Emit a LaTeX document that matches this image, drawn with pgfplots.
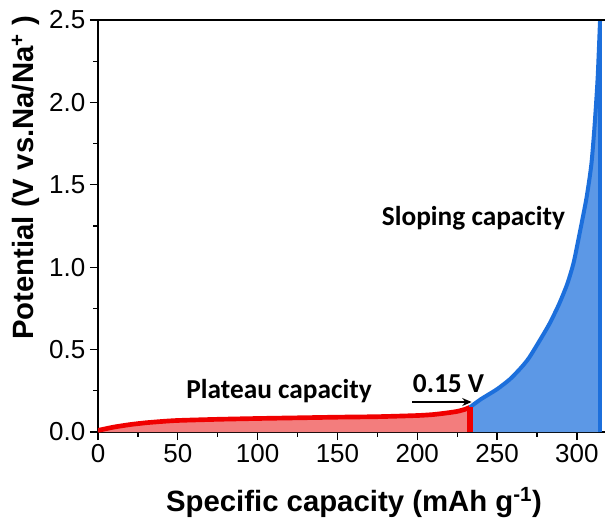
\documentclass[border=0pt]{standalone}
\usepackage{fontspec}
\setmainfont{Liberation Sans}
\newfontfamily\cali{Carlito}
\usepackage{pgfplots}
\pgfplotsset{compat=1.18}
\usetikzlibrary{arrows.meta}
\definecolor{redline}{RGB}{240,0,0}
\definecolor{redfill}{RGB}{243,125,125}
\definecolor{blueline}{RGB}{28,111,220}
\definecolor{bluefill}{RGB}{92,152,230}
\pgfplotstableread{
x y
0 0.01
5 0.02
10 0.03
20 0.045
30 0.056
40 0.064
50 0.07
75 0.077
100 0.082
125 0.086
150 0.09
175 0.093
200 0.1
210 0.106
218 0.115
225 0.125
230 0.138
233 0.15
}\plateau
\pgfplotstableread{
x y
233 0.15
235 0.165
240 0.2
250 0.26
258 0.32
265 0.39
270 0.45
277 0.56
283 0.66
289 0.78
294 0.9
298 1.03
302 1.22
306 1.42
309 1.62
311 1.85
313 2.15
314.5 2.5
}\sloping
\begin{document}
\begin{tikzpicture}
\begin{axis}[
 at={(0,0)}, anchor=south west,
 scale only axis, width=380.25pt, height=309pt,
 xmin=0, xmax=317.6, ymin=0, ymax=2.5,
 axis x line*=bottom, axis y line*=left,
 axis line style={line width=0.9pt, -},
 xtick={0,50,...,300}, ytick={0,0.5,...,2.5},
 minor x tick num=1, minor y tick num=1,
 tick align=outside, major tick length=6pt, minor tick length=3.5pt,
 every tick/.style={line width=0.9pt, black},
 ticklabel style={font=\fontsize{19.5}{20}\selectfont},
 /pgf/number format/assume math mode=true,
 yticklabel style={/pgf/number format/.cd, fixed, fixed zerofill, precision=1},
 xlabel={Specific capacity (mAh g\textsuperscript{-1})},
 ylabel={Potential (V vs.Na/Na\textsuperscript{+} )},
 label style={font=\bfseries\fontsize{22}{24}\selectfont},
 xlabel style={at={(axis description cs:0.505,-0.194)}, anchor=base},
 ylabel style={at={(axis description cs:-0.142,0.617)}, anchor=center},
]
\addplot[draw=none, fill=redfill, smooth, tension=0.4] table {\plateau} \closedcycle;
\addplot[draw=none, fill=bluefill, smooth, tension=0.4] table {\sloping} \closedcycle;
\addplot[redline, line width=3.5pt, smooth, tension=0.4] table {\plateau};
\addplot[blueline, line width=3pt, smooth, tension=0.4] table {\sloping};
\addplot[redline, line width=4pt] coordinates {(233,0) (233,0.15)};
\addplot[blueline, line width=3pt] coordinates {(314.5,0) (314.5,2.5)};
\draw[line width=0.9pt] (rel axis cs:0,1) -- (rel axis cs:1,1);
\draw[-{Stealth[length=7pt,width=6pt]}, line width=1pt] (axis cs:197,0.182) -- (axis cs:234,0.182);
\node[anchor=base west, font=\cali\bfseries\fontsize{20.5}{22}\selectfont, inner sep=0pt] at (axis cs:55.2,0.206) {Plateau capacity};
\node[anchor=base west, font=\cali\bfseries\fontsize{20.5}{22}\selectfont, inner sep=0pt] at (axis cs:177.7,1.256) {Sloping capacity};
\node[anchor=base west, font=\cali\bfseries\fontsize{20.5}{22}\selectfont, inner sep=0pt] at (axis cs:197.1,0.237) {0.15 V};
\end{axis}
\pgfresetboundingbox
\path (-73.5pt,-72pt) rectangle (380.25pt,324pt);
\end{tikzpicture}
\end{document}
